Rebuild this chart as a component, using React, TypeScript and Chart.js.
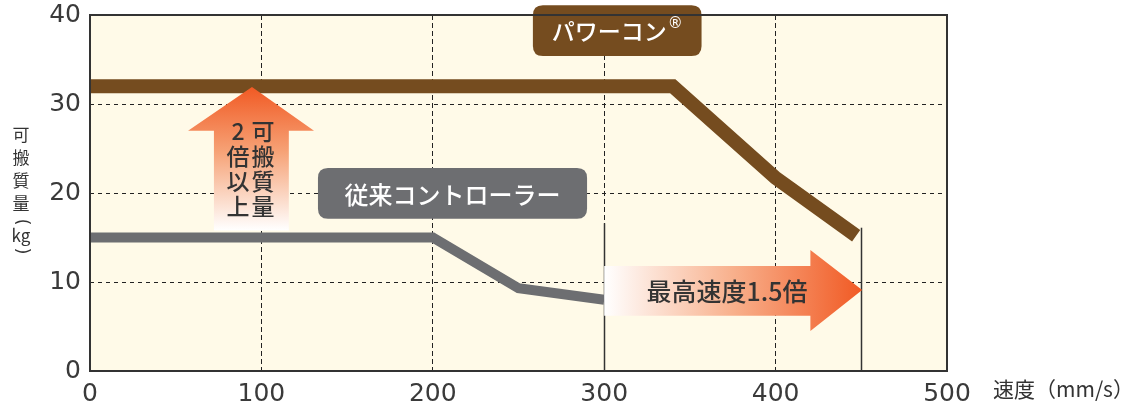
import React, { useEffect, useRef } from 'react';
import { Chart, registerables } from 'chart.js';
Chart.register(...registerables);

// ---- data ----
const xTickValues = [0, 100, 200, 300, 400, 500];
const yTickValues = [0, 10, 20, 30, 40];
const powerconSpeed = [0, 340, 400, 447];
const powerconLoad = [32, 32, 21.7, 15.2];
const conventionalSpeed = [0, 200, 250, 300];
const conventionalLoad = [15, 15, 9.3, 8];
const maxSpeedMarkers = [300, 450];
const maxSpeedMarkerTop = [16.6, 16.1];
const seriesNames = ['パワーコン', '従来コントローラー'];
const speedArrowLabel = '最高速度1.5倍';
const loadArrowColumns = ['可搬質量', '2倍以上'];
const yTitleChars = ['可', '搬', '質', '量'];
const yTitleUnit = 'kg';
const xTitle = '速度（mm/s）';

const CJK = '"Noto Sans CJK JP", "Noto Sans", sans-serif';
const BROWN = '#754c1f';
const GREY = '#6d6e71';
const ORANGE = '#f15a24';
const TEXT = '#333333';

function roundRect(ctx: CanvasRenderingContext2D, x: number, y: number, w: number, h: number, r: number) {
  ctx.beginPath();
  ctx.moveTo(x + r, y);
  ctx.lineTo(x + w - r, y);
  ctx.quadraticCurveTo(x + w, y, x + w, y + r);
  ctx.lineTo(x + w, y + h - r);
  ctx.quadraticCurveTo(x + w, y + h, x + w - r, y + h);
  ctx.lineTo(x + r, y + h);
  ctx.quadraticCurveTo(x, y + h, x, y + h - r);
  ctx.lineTo(x, y + r);
  ctx.quadraticCurveTo(x, y, x + r, y);
  ctx.closePath();
}

const decorPlugin = {
  id: 'decor',
  beforeDraw(chart: any) {
    const { ctx, chartArea: a } = chart;
    ctx.save();
    ctx.fillStyle = '#fffae8';
    ctx.fillRect(a.left, a.top, a.right - a.left, a.bottom - a.top);
    ctx.restore();
  },
  beforeDatasetsDraw(chart: any) {
    const { ctx } = chart;
    const xs = chart.scales.x, ys = chart.scales.y;
    ctx.save();
    ctx.strokeStyle = TEXT;
    ctx.lineWidth = 1.5;
    maxSpeedMarkers.forEach((v, i) => {
      const px = Math.round(xs.getPixelForValue(v)) + 0.5;
      ctx.beginPath();
      ctx.moveTo(px, ys.getPixelForValue(maxSpeedMarkerTop[i]));
      ctx.lineTo(px, ys.getPixelForValue(0));
      ctx.stroke();
    });
    ctx.restore();
  },
  afterDatasetsDraw(chart: any) {
    const { ctx } = chart;
    const xs = chart.scales.x, ys = chart.scales.y;
    const X = (v: number) => xs.getPixelForValue(v);
    const Y = (v: number) => ys.getPixelForValue(v);
    ctx.save();

    // up arrow
    {
      const cx = X(94.5), tipY = Y(31.9), baseY = Y(27), botY = Y(15.8);
      const hl = X(57.2), hr = X(130.7), sl = X(72.3), sr = X(116);
      const g = ctx.createLinearGradient(0, tipY, 0, botY);
      g.addColorStop(0, ORANGE);
      g.addColorStop(0.45, '#f6a276');
      g.addColorStop(1, '#ffffff');
      ctx.fillStyle = g;
      ctx.beginPath();
      ctx.moveTo(cx, tipY);
      ctx.lineTo(hr, baseY);
      ctx.lineTo(sr, baseY);
      ctx.lineTo(sr, botY);
      ctx.lineTo(sl, botY);
      ctx.lineTo(sl, baseY);
      ctx.lineTo(hl, baseY);
      ctx.closePath();
      ctx.fill();
      ctx.fillStyle = TEXT;
      ctx.font = `500 23px ${CJK}`;
      ctx.textAlign = 'center';
      ctx.textBaseline = 'middle';
      const colX = [263, 238];
      loadArrowColumns.forEach((col, ci) => {
        Array.from(col).forEach((ch, ri) => {
          ctx.fillText(ch, colX[ci], 131 + ri * 25);
        });
      });
    }

    // right arrow
    {
      const l = X(300), hs = X(420.3), tip = X(450.5);
      const cy = Y(9.1), st = Y(11.8), sb = Y(6.2), ht = Y(13.6), hb = Y(4.5);
      const g = ctx.createLinearGradient(l, 0, tip, 0);
      g.addColorStop(0, '#ffffff');
      g.addColorStop(0.5, '#f8b08c');
      g.addColorStop(1, ORANGE);
      ctx.fillStyle = g;
      ctx.beginPath();
      ctx.moveTo(l, st);
      ctx.lineTo(hs, st);
      ctx.lineTo(hs, ht);
      ctx.lineTo(tip, cy);
      ctx.lineTo(hs, hb);
      ctx.lineTo(hs, sb);
      ctx.lineTo(l, sb);
      ctx.closePath();
      ctx.fill();
      ctx.fillStyle = TEXT;
      ctx.font = `500 25px ${CJK}`;
      ctx.textAlign = 'center';
      ctx.textBaseline = 'middle';
      ctx.fillText(speedArrowLabel, 727, cy + 1);
    }

    // boxes
    {
      const x1 = X(258.4), x2 = X(356.8), y1 = Y(41.1), y2 = Y(35.4);
      ctx.fillStyle = BROWN;
      roundRect(ctx, x1, y1, x2 - x1, y2 - y1, 10);
      ctx.fill();
      ctx.fillStyle = '#ffffff';
      ctx.textBaseline = 'middle';
      ctx.textAlign = 'left';
      const main = seriesNames[0];
      const regFont = `15px "DejaVu Sans", sans-serif`;
      ctx.font = `500 23px ${CJK}`;
      const w = ctx.measureText(main).width;
      ctx.font = regFont;
      const wr = ctx.measureText('®').width;
      const start = (x1 + x2) / 2 - (w + wr + 1) / 2;
      const my = (y1 + y2) / 2 + 1;
      ctx.font = `500 23px ${CJK}`;
      ctx.fillText(main, start, my);
      ctx.font = regFont;
      ctx.fillText('®', start + w + 1, my - 7);
    }
    {
      const x1 = X(133), x2 = X(290), y1 = Y(22.8), y2 = Y(17.1);
      ctx.fillStyle = GREY;
      roundRect(ctx, x1, y1, x2 - x1, y2 - y1, 10);
      ctx.fill();
      ctx.fillStyle = '#ffffff';
      ctx.font = `500 24px ${CJK}`;
      ctx.textBaseline = 'middle';
      ctx.textAlign = 'center';
      ctx.fillText(seriesNames[1], (x1 + x2) / 2, (y1 + y2) / 2 + 1);
    }
    ctx.restore();
  },
  afterDraw(chart: any) {
    const { ctx, chartArea: a } = chart;
    ctx.save();
    ctx.strokeStyle = TEXT;
    ctx.lineWidth = 2;
    ctx.strokeRect(Math.round(a.left), Math.round(a.top), Math.round(a.right - a.left), Math.round(a.bottom - a.top));

    // y title (vertical)
    ctx.fillStyle = TEXT;
    ctx.textAlign = 'center';
    ctx.textBaseline = 'middle';
    ctx.font = `17px ${CJK}`;
    yTitleChars.forEach((ch, i) => ctx.fillText(ch, 21, 135 + i * 23));
    const drawParen = (p: string, y: number) => {
      ctx.save();
      ctx.translate(21, y);
      ctx.rotate(Math.PI / 2);
      ctx.font = `17px "DejaVu Sans", sans-serif`;
      ctx.fillText(p, 0, 0);
      ctx.restore();
    };
    drawParen('(', 222);
    ctx.font = `17px ${CJK}`;
    ctx.fillText(yTitleUnit, 21, 236);
    drawParen(')', 251);

    // x title
    ctx.textAlign = 'left';
    ctx.font = `21px ${CJK}`;
    ctx.fillText(xTitle, 993, 389);
    ctx.restore();
  },
};

export default function App() {
  const ref = useRef<HTMLCanvasElement>(null);
  useEffect(() => {
    if (!ref.current) return;
    const edgeX = (c: any) => (c.tick && (c.tick.value === xTickValues[0] || c.tick.value === xTickValues[xTickValues.length - 1]) ? 0 : 1);
    const edgeY = (c: any) => (c.tick && (c.tick.value === yTickValues[0] || c.tick.value === yTickValues[yTickValues.length - 1]) ? 0 : 1);
    const chart = new Chart(ref.current, {
      type: 'line',
      data: {
        datasets: [
          {
            label: seriesNames[0],
            data: powerconSpeed.map((x, i) => ({ x, y: powerconLoad[i] })),
            borderColor: BROWN,
            borderWidth: 14,
            pointRadius: 0,
            borderJoinStyle: 'miter',
            borderCapStyle: 'butt',
            tension: 0,
          },
          {
            label: seriesNames[1],
            data: conventionalSpeed.map((x, i) => ({ x, y: conventionalLoad[i] })),
            borderColor: GREY,
            borderWidth: 10,
            pointRadius: 0,
            borderJoinStyle: 'miter',
            borderCapStyle: 'butt',
            tension: 0,
          },
        ],
      },
      options: {
        responsive: false,
        devicePixelRatio: 1,
        animation: false,
        layout: { padding: { top: 15, right: 184, left: 0, bottom: 0 } },
        plugins: { legend: { display: false }, tooltip: { enabled: false } },
        scales: {
          x: {
            type: 'linear',
            min: xTickValues[0],
            max: xTickValues[xTickValues.length - 1],
            afterBuildTicks: (s: any) => { s.ticks = xTickValues.map((v) => ({ value: v })); },
            afterFit: (s: any) => { s.height = 30; s.paddingLeft = 0; s.paddingRight = 0; },
            ticks: { color: '#3a3a3a', padding: 8, font: { family: 'DejaVu Sans', size: 25 }, maxRotation: 0 },
            grid: { color: '#222', lineWidth: edgeX, drawTicks: false },
            border: { display: false, dash: [5, 3] },
          },
          y: {
            type: 'linear',
            min: yTickValues[0],
            max: yTickValues[yTickValues.length - 1],
            afterBuildTicks: (s: any) => { s.ticks = yTickValues.map((v) => ({ value: v })); },
            afterFit: (s: any) => { s.width = 90; s.paddingTop = 0; s.paddingBottom = 0; },
            ticks: { color: '#3a3a3a', padding: 9, font: { family: 'DejaVu Sans', size: 25 } },
            grid: { color: '#222', lineWidth: edgeY, drawTicks: false },
            border: { display: false, dash: [4, 4] },
          },
        },
      },
      plugins: [decorPlugin],
    } as any);
    return () => chart.destroy();
  }, []);
  return (
    <div style={{ position: 'fixed', left: 0, top: 0, width: 1131, height: 401, background: '#fff' }}>
      <canvas ref={ref} width={1131} height={401} style={{ display: 'block' }} />
    </div>
  );
}
